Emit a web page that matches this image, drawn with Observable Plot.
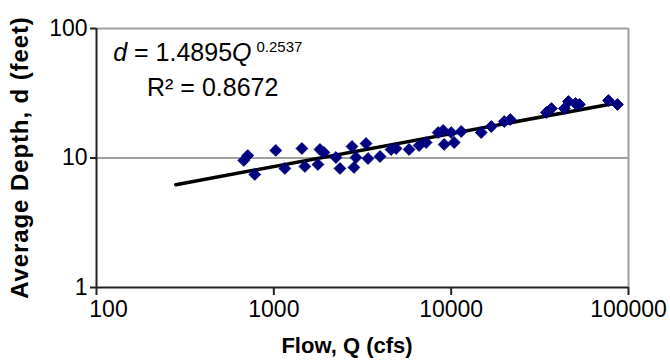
<!DOCTYPE html>
<html><head><meta charset="utf-8">
<script src="https://cdn.jsdelivr.net/npm/d3@7"></script>
<script src="https://cdn.jsdelivr.net/npm/@observablehq/plot@0.6"></script>
<style>
body{margin:0;background:#fff;}
#chart svg{display:block;}
</style>
</head><body><div id="chart"></div>
<script>
// Observed flow Q (cfs) and average depth d (feet)
const flowQ = [677, 713, 781, 1026, 1154, 1440, 1497, 1773, 1820, 1917, 2240, 2360, 2759, 2831, 2906, 3310, 3397, 3971, 4582, 4890, 5790, 6595, 7223, 8445, 9013, 9131, 10000, 10397, 11390, 14770, 16830, 19930, 21540, 34410, 36730, 43490, 45810, 50180, 52880, 77090, 86670];
const depthD = [9.57, 10.45, 7.46, 11.43, 8.30, 11.84, 8.60, 8.91, 11.63, 11.03, 10.09, 8.30, 12.27, 8.45, 10.09, 12.94, 9.91, 10.27, 11.63, 11.84, 11.63, 12.49, 13.17, 15.73, 16.31, 12.72, 15.73, 13.17, 16.02, 15.73, 17.51, 19.13, 19.83, 22.46, 24.12, 24.12, 27.31, 26.36, 25.89, 27.80, 25.89];
// Power trend line d = 1.4895 Q^0.2537 (straight on log-log), end points
const trendQ = [280, 86000];
const trendD = [6.22, 26.6];
const xTicks = [100, 1000, 10000, 100000];
const yTicks = [1, 10, 100];
const xTitle = "Flow, Q (cfs)";
const yTitle = "Average Depth, d (feet)";
const eqCoef = "1.4895";
const eqExp = "0.2537";
const r2Text = "R² = 0.8672";
const eqPos = {q: 125, d: 56};
const r2Pos = {q: 194, d: 30};

const points = flowQ.map((q, i) => ({q, d: depthD[i]}));
const trend = trendQ.map((q, i) => ({q, d: trendD[i]}));

const plot = Plot.plot({
  width: 670, height: 363,
  marginLeft: 96, marginRight: 42, marginTop: 28, marginBottom: 76,
  style: {fontFamily: "'Liberation Sans', Arial, sans-serif", fontSize: "23px", color: "#000", background: "#fff"},
  x: {type: "log", domain: [100, 100000]},
  y: {type: "log", domain: [1, 100]},
  marks: [
    Plot.ruleY(yTicks.slice(1), {stroke: "#a0a0a0", strokeWidth: 2}),
    Plot.ruleX([100000], {stroke: "#a0a0a0", strokeWidth: 2}),
    Plot.axisX({ticks: xTicks, tickFormat: d => String(d), tickSize: 8, tickPadding: 5, label: null, stroke: "#222", strokeWidth: 2, fill: "#000"}),
    Plot.axisY({ticks: yTicks, tickFormat: d => String(d), tickSize: 6, tickPadding: 3, label: null, stroke: "#222", strokeWidth: 2, fill: "#000"}),
    Plot.ruleY([1], {stroke: "#222", strokeWidth: 2}),
    Plot.ruleX([100], {stroke: "#222", strokeWidth: 2}),
    Plot.line(trend, {x: "q", y: "d", stroke: "#000", strokeWidth: 3.5}),
    Plot.dot(points, {x: "q", y: "d", symbol: "diamond2", r: 5.3, fill: "#000080", stroke: "#000080", strokeWidth: 1})
  ]
});
document.getElementById("chart").appendChild(plot);

const svg = d3.select(plot);
// The first x tick label sits a little right of its tick, as in the reference
svg.selectAll('g[aria-label="x-axis tick label"] text')
  .filter((d, i) => i === 0).attr("dx", 12);

// Titles and regression annotation placed with the plot's own scales
const sx = plot.scale("x"), sy = plot.scale("y");
const [x0, x1] = sx.range, [y0, y1] = sy.range; // y0 bottom, y1 top
svg.append("text")
  .attr("text-anchor", "middle")
  .attr("x", (x0 + x1) / 2 - 15).attr("y", y0 + 66)
  .attr("font-size", 22).attr("font-weight", "bold").attr("fill", "#000")
  .text(xTitle);
svg.append("text")
  .attr("text-anchor", "middle")
  .attr("transform", `translate(28,${(y0 + y1) / 2}) rotate(-90)`)
  .attr("font-size", 24).attr("letter-spacing", "0.9px").attr("font-weight", "bold").attr("fill", "#000")
  .text(yTitle);
const eq = svg.append("text")
  .attr("text-anchor", "start")
  .attr("x", sx.apply(eqPos.q)).attr("y", sy.apply(eqPos.d))
  .attr("font-size", 25).attr("fill", "#000");
eq.append("tspan").attr("font-style", "italic").text("d");
eq.append("tspan").text(" = " + eqCoef);
eq.append("tspan").attr("font-style", "italic").text("Q");
eq.append("tspan").attr("font-size", 15).attr("dy", -9).attr("dx", 5).text(eqExp);
svg.append("text")
  .attr("text-anchor", "start")
  .attr("x", sx.apply(r2Pos.q)).attr("y", sy.apply(r2Pos.d))
  .attr("font-size", 25).attr("fill", "#000").text(r2Text);
</script>
</body></html>
